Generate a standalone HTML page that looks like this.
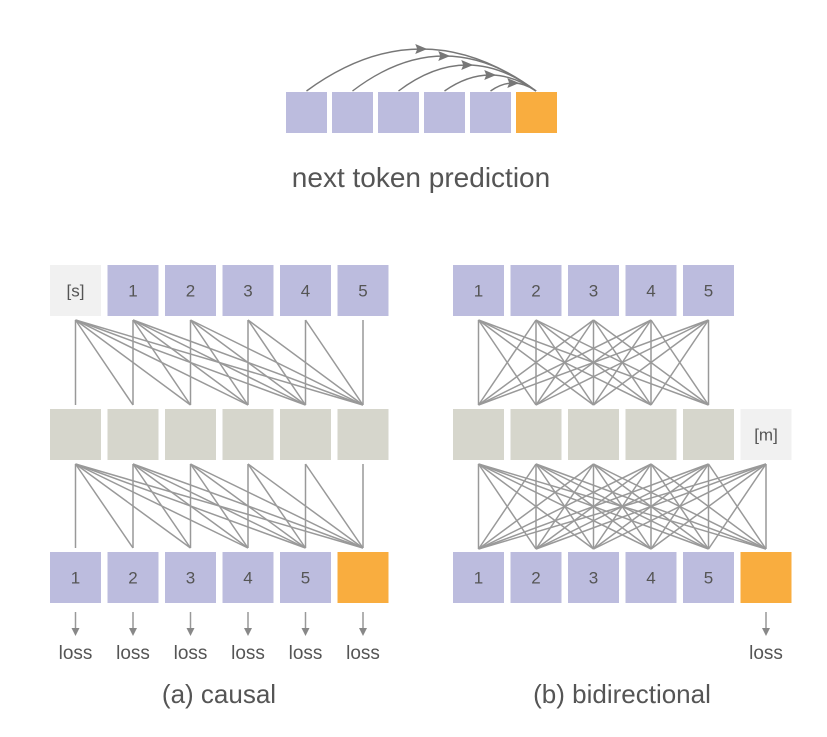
<!DOCTYPE html>
<html><head><meta charset="utf-8"><style>
body{margin:0;background:#fff;}
svg{display:block;font-family:"Liberation Sans",Arial,sans-serif;}
</style></head><body>
<svg id="s" width="827" height="737" viewBox="0 0 827 737" xmlns="http://www.w3.org/2000/svg">
<defs>
<marker id="ah" markerWidth="8" markerHeight="8" refX="6" refY="4" orient="auto" markerUnits="userSpaceOnUse">
<path d="M0,0 L8,4 L0,8 Z" fill="#888"/></marker>
</defs>
<text x="421" y="187" font-size="28" fill="#555" text-anchor="middle">next token prediction</text>
<text x="219" y="703" font-size="26" fill="#555" text-anchor="middle">(a) causal</text>
<text x="622" y="703" font-size="26" fill="#555" text-anchor="middle">(b) bidirectional</text>
<g id="g"></g>
</svg>
<script>
const g=document.getElementById('g');let h='';
const P='#bcbcde',G='#d6d6cc',L='#f1f1f1',O='#f9ad3f',LC='#999';
function rect(x,y,w,c,t){h+=`<rect x="${x}" y="${y}" width="${w}" height="${w}" fill="${c}"/>`;if(t)h+=`<text x="${x+w/2}" y="${y+w/2+6}" font-size="17" fill="#555" text-anchor="middle">${t}</text>`;}
function line(x1,y1,x2,y2){h+=`<line x1="${x1}" y1="${y1}" x2="${x2}" y2="${y2}" stroke="${LC}" stroke-width="1.5"/>`;}
// top
const hs=[42,35,26,16,8];
for(let i=0;i<5;i++){const x=286+i*46,cx=x+20.5,ex=536,h0=hs[i];const cy=91-2*h0;
 h+=`<path d="M${cx},91 Q${(cx+ex)/2},${cy} ${ex},91" fill="none" stroke="#777" stroke-width="1.4"/>`;
 const mx=(cx+ex)/2,my=91-h0;h+=`<path d="M${mx+6},${my} L${mx-6},${my-5} L${mx-4},${my} L${mx-6},${my+5} Z" fill="#777"/>`;
 rect(x,92,41,P);}
rect(516,92,41,O);
// causal
const cx0=50,pt=57.5,w=51;
const c=i=>cx0+i*pt+w/2;
for(let i=0;i<6;i++)for(let j=i;j<6;j++){line(c(i),320,c(j),405);line(c(i),464,c(j),548);}
for(let i=0;i<6;i++){rect(cx0+i*pt,265,w,i==0?L:P,i==0?'[s]':String(i));rect(cx0+i*pt,409,w,G);
 rect(cx0+i*pt,552,w,i==5?O:P,i==5?'':String(i+1));
 line(c(i),612,c(i),633);h+=`<path d="M${c(i)-4},628 L${c(i)+4},628 L${c(i)},636 Z" fill="#888"/>`;
 h+=`<text x="${c(i)}" y="659" font-size="19" fill="#555" text-anchor="middle">loss</text>`;}
// bidirectional
const bx0=453;const b=i=>bx0+i*pt+w/2;
for(let i=0;i<5;i++)for(let j=0;j<5;j++)line(b(i),320,b(j),405);
for(let i=0;i<6;i++)for(let j=0;j<6;j++)line(b(i),464,b(j),549);
for(let i=0;i<6;i++){if(i<5)rect(bx0+i*pt,265,w,P,String(i+1));
 rect(bx0+i*pt,409,w,i==5?L:G,i==5?'[m]':'');
 rect(bx0+i*pt,552,w,i==5?O:P,i==5?'':String(i+1));}
line(b(5),612,b(5),633);h+=`<path d="M${b(5)-4},628 L${b(5)+4},628 L${b(5)},636 Z" fill="#888"/>`;
h+=`<text x="${b(5)}" y="659" font-size="19" fill="#555" text-anchor="middle">loss</text>`;
g.innerHTML=h;
</script>
</body></html>
